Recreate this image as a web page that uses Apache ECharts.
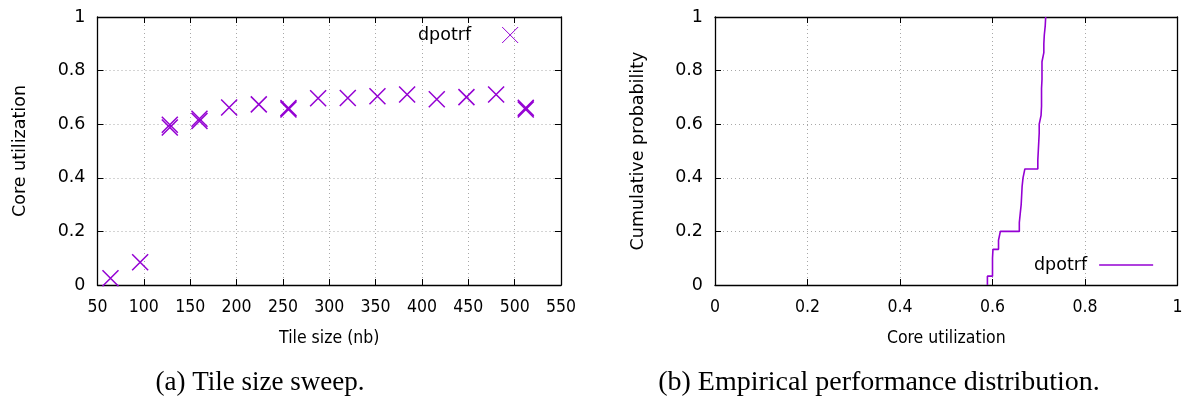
<!DOCTYPE html>
<html><head><meta charset="utf-8">
<script src="https://cdn.jsdelivr.net/npm/echarts@6/dist/echarts.min.js"></script>
<style>html,body{margin:0;padding:0;background:#fff}#c{width:1189px;height:397px}</style>
</head><body><div id="c"></div>
<script>
// ---- data ----
const tileSizes   = [64, 96, 128, 128, 160, 160, 192, 224, 256, 256, 288, 320, 352, 384, 416, 448, 480, 512, 512];
const utilization = [0.025, 0.085, 0.588, 0.598, 0.612, 0.620, 0.662, 0.674, 0.655, 0.660, 0.697, 0.698, 0.704, 0.711, 0.693, 0.701, 0.711, 0.655, 0.661];

const cdfUtil = [0.589, 0.589, 0.600, 0.600, 0.601, 0.613, 0.617, 0.658, 0.660, 0.662, 0.663, 0.664, 0.666, 0.670,
                 0.698, 0.699, 0.700, 0.701, 0.701, 0.705, 0.706, 0.706, 0.706, 0.707, 0.707, 0.707,
                 0.711, 0.711, 0.712, 0.714, 0.715];
const cdfProb = [0.000, 0.033, 0.067, 0.100, 0.133, 0.167, 0.200, 0.233, 0.267, 0.300, 0.333, 0.367, 0.400, 0.433,
                 0.467, 0.500, 0.533, 0.567, 0.600, 0.633, 0.667, 0.700, 0.733, 0.767, 0.800, 0.833,
                 0.867, 0.900, 0.933, 0.967, 1.000];

const xRangeA = {min: 50, max: 550, interval: 50};
const xRangeB = {min: 0, max: 1, interval: 0.2};
const yRange  = {min: 0, max: 1, interval: 0.2};

const captionA = '(a) Tile size sweep.';
const captionB = '(b) Empirical performance distribution.';
const seriesLabel = 'dpotrf';

// ---- styles ----
const PURPLE = '#9400D3';
const FONT = 'DejaVu Sans';
const FONT_C = '"DejaVu Sans Condensed", "DejaVu Sans"';
const xLabelStyle = {fontFamily: FONT_C, fontSize: 17.5, color: '#000'};
const yLabelStyle = {fontFamily: FONT, fontSize: 17.5, color: '#000'};
const BORDER = {color: '#000', width: 1.3};

function mainX(grid, range, name) {
  return Object.assign({
    gridIndex: grid, type: 'value', position: 'bottom',
    axisLine: {show: true, onZero: false, lineStyle: BORDER},
    axisTick: {show: true, inside: true, length: 6, lineStyle: {color: '#000'}},
    axisLabel: Object.assign({margin: 13}, xLabelStyle),
    splitLine: {show: true, lineStyle: {color: '#a8a8a8', type: [1, 3], width: 1}},
    name: name, nameLocation: 'middle', nameGap: 44,
    nameTextStyle: xLabelStyle
  }, range);
}
function mirrorX(grid, range) {
  return Object.assign({
    gridIndex: grid, type: 'value', position: 'top',
    axisLine: {show: true, onZero: false, lineStyle: BORDER},
    axisTick: {show: true, inside: true, length: 6, lineStyle: {color: '#000'}},
    axisLabel: {show: false}, splitLine: {show: false}
  }, range);
}
function mainY(grid, range, name) {
  return Object.assign({
    gridIndex: grid, type: 'value', position: 'left',
    axisLine: {show: true, onZero: false, lineStyle: BORDER},
    axisTick: {show: true, inside: true, length: 6, lineStyle: {color: '#000'}},
    axisLabel: Object.assign({margin: 12}, yLabelStyle),
    splitLine: {show: true, lineStyle: {color: '#a8a8a8', type: [1, 3], width: 1}},
    name: name, nameLocation: 'middle', nameGap: 68, nameRotate: 90,
    nameTextStyle: yLabelStyle
  }, range);
}
function mirrorY(grid, range) {
  return Object.assign({
    gridIndex: grid, type: 'value', position: 'right',
    axisLine: {show: true, onZero: false, lineStyle: BORDER},
    axisTick: {show: true, inside: true, length: 6, lineStyle: {color: '#000'}},
    axisLabel: {show: false}, splitLine: {show: false}
  }, range);
}

const chart = echarts.init(document.getElementById('c'), null, {renderer: 'canvas'});
chart.setOption({
  animation: false,
  backgroundColor: '#fff',
  grid: [
    {left: 97.5, top: 17, width: 463.5, height: 268},
    {left: 715, top: 17, width: 462.5, height: 268}
  ],
  xAxis: [
    mainX(0, xRangeA, 'Tile size (nb)'), mirrorX(0, xRangeA),
    mainX(1, xRangeB, 'Core utilization'), mirrorX(1, xRangeB)
  ],
  yAxis: [
    mainY(0, yRange, 'Core utilization'), mirrorY(0, yRange),
    mainY(1, yRange, 'Cumulative probability'), mirrorY(1, yRange)
  ],
  legend: [
    {
      data: [seriesLabel + ' (a)'], formatter: () => seriesLabel,
      left: 418, top: 26, align: 'right', padding: 0,
      itemWidth: 16, itemHeight: 16,
      itemStyle: {color: PURPLE, borderColor: PURPLE, borderWidth: 1, opacity: 1},
      textStyle: {fontFamily: FONT, fontSize: 17.5, color: '#000', padding: [0, 26, 0, 0]}
    },
    {
      data: [{name: seriesLabel + ' (b)', icon: 'rect'}], formatter: () => seriesLabel,
      left: 1034, top: 256, align: 'right', padding: 0,
      itemWidth: 54, itemHeight: 1.5,
      itemStyle: {color: PURPLE, borderWidth: 0},
      textStyle: {fontFamily: FONT, fontSize: 17.5, color: '#000', padding: [0, 7, 0, 0]}
    }
  ],
  series: [
    {
      name: seriesLabel + ' (a)', type: 'scatter', xAxisIndex: 0, yAxisIndex: 0,
      symbol: 'path://M0,0L16,16M16,0L0,16', symbolSize: 16,
      itemStyle: {color: PURPLE, borderColor: PURPLE, borderWidth: 1.5, opacity: 1},
      data: tileSizes.map((t, i) => [t, utilization[i]])
    },
    {
      name: seriesLabel + ' (b)', type: 'line', xAxisIndex: 2, yAxisIndex: 2,
      step: 'end', symbol: 'none', showSymbol: false,
      lineStyle: {color: PURPLE, width: 1.6}, itemStyle: {color: PURPLE},
      data: cdfUtil.map((u, i) => [u, cdfProb[i]])
    }
  ],
  graphic: [
    {type: 'text', x: 260, y: 383, style: {text: captionA, fontFamily: 'Liberation Serif', fontSize: 27, fill: '#000', textAlign: 'center', textVerticalAlign: 'middle'}},
    {type: 'text', x: 879, y: 383, style: {text: captionB, fontFamily: 'Liberation Serif', fontSize: 28, fill: '#000', textAlign: 'center', textVerticalAlign: 'middle'}}
  ]
});
</script>
</body></html>
